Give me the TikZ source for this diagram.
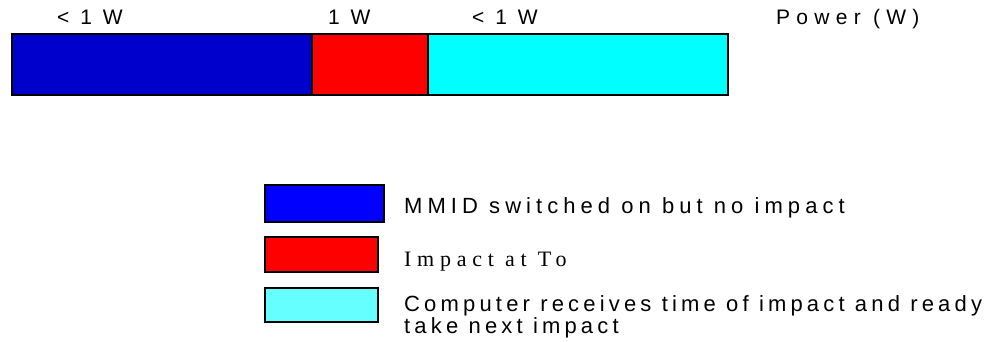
\documentclass[tikz,border=0pt]{standalone}
\usepackage{fontspec}
\setmainfont{Liberation Sans}
\newfontfamily\serifleg{Liberation Serif}
\definecolor{barblue}{RGB}{0,0,204}
\definecolor{legblue}{RGB}{0,0,255}
\definecolor{barred}{RGB}{255,0,0}
\definecolor{barcyan}{RGB}{0,255,255}
\definecolor{legcyan}{RGB}{102,255,255}
\begin{document}
\begin{tikzpicture}[x=1pt,y=-1pt,
  seg/.style={draw=black,line width=2pt},
  toplab/.style={anchor=base west,inner sep=0pt,font=\fontsize{21}{22}\selectfont\addfontfeatures{LetterSpace=24}},
  leglab/.style={anchor=base west,inner sep=0pt,align=left,font=\fontsize{22}{18}\selectfont\addfontfeatures{LetterSpace=23}}]
\useasboundingbox (0,0) rectangle (992,342);
% bar
\path[seg,fill=barblue] (12,34) rectangle (312,95);
\path[seg,fill=barred] (312,34) rectangle (428,95);
\path[seg,fill=barcyan] (428,34) rectangle (728,95);
% top labels
\node[toplab] (t1) at (57,25) {< 1 W};
\node[toplab] (t2) at (328,25) {1 W};
\node[toplab] (t3) at (472,25) {< 1 W};
\node[toplab,font=\fontsize{21}{22}\selectfont\addfontfeatures{LetterSpace=30}] (pw) at (776,25) {Power (W)};
% legend
\path[seg,fill=legblue] (265,185) rectangle (384,222);
\path[seg,fill=barred] (265,237) rectangle (378,272);
\path[seg,fill=legcyan] (265,288) rectangle (378,322);
\node[leglab] (l1) at (404,213) {MMID switched on but no impact};
\node[leglab,font=\fontsize{22}{18}\selectfont\serifleg\addfontfeatures{LetterSpace=26}] (l2) at (404,266) {Impact at To};
\node[leglab,font=\fontsize{22}{18}\selectfont\addfontfeatures{LetterSpace=19}] (l3) at (404,333) {Computer receives time of impact and ready\\take next impact};
\end{tikzpicture}
\end{document}
